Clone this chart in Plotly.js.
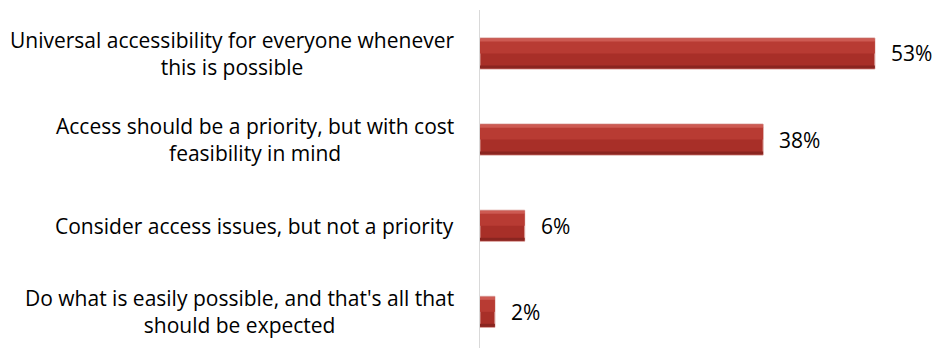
<!DOCTYPE html>
<html>
<head>
<meta charset="utf-8">
<script src="https://cdn.plot.ly/plotly-3.0.1.min.js"></script>
<style>
  html, body { margin: 0; padding: 0; background: #fff; }
  #chart { width: 934px; height: 348px; }
</style>
</head>
<body>
<div id="chart"></div>
<script>
// Survey answers, top to bottom
const categories = [
  "Universal accessibility for everyone whenever<br>this is possible",
  "Access should be a priority, but with cost<br>feasibility in mind",
  "Consider access issues, but not a priority",
  "Do what is easily possible, and that's all that<br>should be expected"
];
const values = [53, 38, 6, 2];
const valueLabels = ["53%", "38%", "6%", "2%"];

const idx = categories.map((_, i) => i);
const FONT = "Open Sans, Noto Sans, sans-serif";
const FONT_SIZE = 21;
const BAR_W = 0.36;
const EDGE = 0.035;

// Bar bands drawn on top of each other to give a bevelled look
function band(color, width, offset, line) {
  const t = {
    type: "bar", orientation: "h",
    x: values, y: idx, width: width,
    marker: { color: color, line: line || { width: 0 } },
    hoverinfo: "skip"
  };
  if (offset !== undefined) t.offset = offset;
  return t;
}

const traces = [
  band("#a82f28", BAR_W, undefined, { color: "#dba19c", width: 1 }), // body
  band("#b83b33", BAR_W / 2 - EDGE, -BAR_W / 2 + EDGE),              // lighter upper half
  band("#cd5a52", EDGE, -BAR_W / 2 + 0.006),                         // top edge highlight
  band("#8a2520", EDGE, BAR_W / 2 - EDGE - 0.006)                    // bottom edge shade
];

const annotations = [];
categories.forEach((c, i) => {
  annotations.push({
    xref: "paper", yref: "y", x: 0, y: i,
    xanchor: "right", yanchor: "middle", xshift: -24,
    text: c, align: "center", showarrow: false,
    font: { family: FONT, size: FONT_SIZE, color: "#000" }
  });
  annotations.push({
    xref: "x", yref: "y", x: values[i], y: i,
    xanchor: "left", yanchor: "middle", xshift: 14,
    text: valueLabels[i], showarrow: false,
    font: { family: FONT, size: FONT_SIZE, color: "#000" }
  });
});

const layout = {
  width: 934, height: 348,
  margin: { l: 480, r: 7, t: 10, b: 0 },
  paper_bgcolor: "#fff", plot_bgcolor: "#fff",
  barmode: "overlay",
  showlegend: false,
  xaxis: { range: [0, 60], visible: false, fixedrange: true },
  yaxis: {
    range: [3.42, -0.505], showticklabels: false, showgrid: false,
    zeroline: false, showline: true, linecolor: "#d9d9d9", linewidth: 1,
    ticks: "", fixedrange: true
  },
  annotations: annotations
};

Plotly.newPlot("chart", traces, layout, { staticPlot: true, displayModeBar: false });
</script>
</body>
</html>
